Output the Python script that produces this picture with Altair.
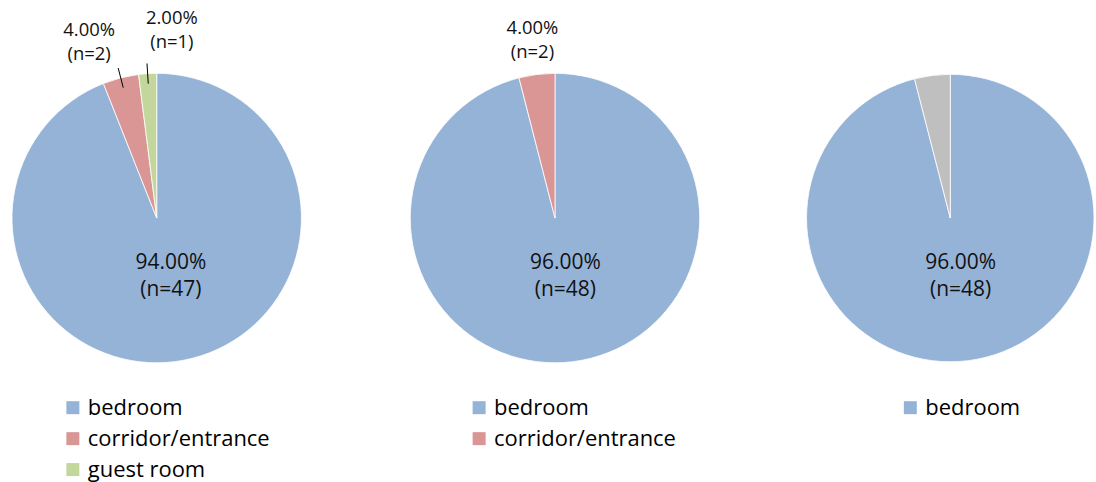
import math
import altair as alt
import pandas as pd

# ---------------- data ----------------
panel1_categories = ["bedroom", "corridor/entrance", "guest room"]
panel1_percent = [94.0, 4.0, 2.0]
panel1_counts = [47, 2, 1]

panel2_categories = ["bedroom", "corridor/entrance"]
panel2_percent = [96.0, 4.0]
panel2_counts = [48, 2]

panel3_categories = ["bedroom", "other"]
panel3_percent = [96.0, 4.0]
panel3_counts = [48, 2]

colour_of = {
    "bedroom": "#95B3D7",
    "corridor/entrance": "#D99694",
    "guest room": "#C3D69B",
    "other": "#BFBFBF",
}

# ---------------- layout ----------------
H = 482
FONT = "Open Sans"


def make_frame(cats, pct, counts):
    df = pd.DataFrame({"category": cats, "pct": pct, "n": counts})
    df["end"] = df["pct"].cumsum()
    df["start"] = df["end"] - df["pct"]
    df["mid"] = (df["start"] + df["end"]) / 2
    df["label"] = [f"{p:.2f}%\n(n={c})" for p, c in zip(df["pct"], df["n"])]
    return df


def panel(df, width, cx, cy, r, legend_values, legend_x, outer_labels, leaders,
          angle_shift, center_cats, d_out=186):
    base = alt.Chart(df)
    xs = alt.Scale(domain=[0, width], range=[0, width])
    ys = alt.Scale(domain=[0, H], range=[0, H])
    cats = list(df["category"])
    col = alt.Color(
        "category:N",
        scale=alt.Scale(domain=cats, range=[colour_of[c] for c in cats]),
        legend=alt.Legend(
            title=None, orient="none", legendX=legend_x, legendY=397,
            values=legend_values, symbolType="square", symbolSize=169,
            symbolStrokeWidth=0, labelFont=FONT, labelFontSize=22,
            labelColor="#000000", labelOffset=4, rowPadding=9, padding=0,
            labelLimit=0,
        ),
        sort=cats,
    )
    arcs = base.mark_arc(radius=r, stroke="white", strokeWidth=0.8).encode(
        theta=alt.Theta("start:Q", scale=alt.Scale(domain=[0, 100], range=[0, 2 * math.pi])),
        theta2="end:Q",
        color=col,
        x=alt.value(cx),
        y=alt.value(cy),
        order=alt.Order("start:Q"),
    )
    layers = [arcs]

    # center label(s)
    cen_expr = " || ".join([f"datum.category == '{c}'" for c in center_cats])
    d_in = 0.41 * r
    center = base.transform_filter(cen_expr).transform_calculate(
        a="datum.mid / 100 * 2 * PI",
    ).transform_calculate(
        lx=f"{cx + 3} + {d_in} * sin(datum.a)",
        ly=f"{cy} - {d_in} * cos(datum.a)",
    ).mark_text(font=FONT, fontSize=21, lineBreak="\n", lineHeight=27, dy=-13.5,
                color="#111111", align="center", baseline="middle").encode(
        x=alt.X("lx:Q", scale=xs, axis=None),
        y=alt.Y("ly:Q", scale=ys, axis=None),
        text="label:N",
    )
    layers.append(center)

    if outer_labels:
        sel = " || ".join([f"datum.category == '{c}'" for c in outer_labels])
        shift_expr = "0"
        for c, s in angle_shift.items():
            shift_expr = f"(datum.category == '{c}' ? {s} : {shift_expr})"
        outer = base.transform_filter(sel).transform_calculate(
            a=f"(datum.mid / 100 * 360 + {shift_expr}) * PI / 180",
        ).transform_calculate(
            lx=f"{cx} + {d_out} * sin(datum.a)",
            ly=f"{cy} - {d_out} * cos(datum.a)",
        ).mark_text(font=FONT, fontSize=18.5, lineBreak="\n", lineHeight=24, dy=-12,
                    color="#111111", align="center", baseline="middle").encode(
            x=alt.X("lx:Q", scale=xs, axis=None),
            y=alt.Y("ly:Q", scale=ys, axis=None),
            text="label:N",
        )
        layers.append(outer)

    if leaders:
        sel = " || ".join([f"datum.category == '{c}'" for c in leaders])
        lines = base.transform_filter(sel).transform_calculate(
            a="datum.mid / 100 * 2 * PI",
        ).transform_calculate(
            x1=f"{cx} + {0.93 * r} * sin(datum.a)",
            y1=f"{cy} - {0.93 * r} * cos(datum.a)",
            x2=f"{cx} + {1.07 * r} * sin(datum.a)",
            y2=f"{cy} - {1.07 * r} * cos(datum.a)",
        ).mark_rule(color="#000000", strokeWidth=1).encode(
            x=alt.X("x1:Q", scale=xs, axis=None),
            y=alt.Y("y1:Q", scale=ys, axis=None),
            x2="x2:Q",
            y2="y2:Q",
        )
        layers.append(lines)

    return alt.layer(*layers).properties(width=width, height=H)


df1 = make_frame(panel1_categories, panel1_percent, panel1_counts)
df2 = make_frame(panel2_categories, panel2_percent, panel2_counts)
df3 = make_frame(panel3_categories, panel3_percent, panel3_counts)

p1 = panel(df1, 365, 157, 218, 145, ["bedroom", "corridor/entrance", "guest room"], 62,
           ["corridor/entrance", "guest room"], ["corridor/entrance", "guest room"],
           {"corridor/entrance": -6.6, "guest room": 8.2}, ["bedroom"], d_out=189)
p2 = panel(df2, 365, 191, 218, 145, ["bedroom", "corridor/entrance"], 104,
           ["corridor/entrance"], [], {}, ["bedroom"], d_out=180)
p3 = panel(df3, 366, 222, 218, 144, ["bedroom"], 171, [], [], {}, ["bedroom"])

chart = alt.hconcat(p1, p2, p3, spacing=0).resolve_scale(
    color="independent", x="independent", y="independent"
).properties(padding=0, background="white").configure_view(stroke=None, strokeWidth=0)

chart.save("out.html", embed_options={"renderer": "svg", "actions": False})
